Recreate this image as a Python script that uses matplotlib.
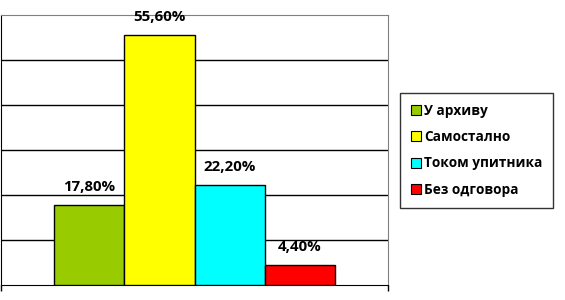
"""Bar chart of answer shares with legend on the right."""

import matplotlib
matplotlib.use('Agg')
import matplotlib.pyplot as plt
from matplotlib.patches import Patch

# data
categories = ['У архиву', 'Самостално', 'Током упитника', 'Без одговора']
values = [17.8, 55.6, 22.2, 4.4]
value_labels = ['17,80%', '55,60%', '22,20%', '4,40%']
colors = ['#99CC00', '#FFFF00', '#00FFFF', '#FF0000']

plt.rcParams['font.family'] = ['Open Sans', 'DejaVu Sans']

fig = plt.figure(figsize=(5.65, 3.0), dpi=100)
ax = fig.add_axes([0.002, 15 / 300, 387 / 565, 270 / 300])

x = list(range(len(values)))
ax.bar(x, values, width=1.0, color=colors, edgecolor='black', linewidth=1, zorder=3)

# value labels above bars
for xi, v, lab in zip(x, values, value_labels):
    ax.annotate(lab, (xi, v), xytext=(0, 11), textcoords='offset pixels',
                ha='center', va='bottom', fontsize=10.8, fontweight='bold')

ax.set_ylim(0, 60)
ax.set_xlim(-1.258, 4.261)
ax.set_yticks([10, 20, 30, 40, 50])
ax.yaxis.grid(True, color='black', linewidth=1, zorder=0)
ax.tick_params(axis='y', length=0, labelleft=False)
ax.set_xticks([-1.258, 4.261])
ax.tick_params(axis='x', direction='out', length=4, width=1, labelbottom=False)

for side in ['top', 'right']:
    ax.spines[side].set_color('#808080')
ax.spines['left'].set_color('black')
ax.spines['bottom'].set_color('black')

handles = [Patch(facecolor=c, edgecolor='black', linewidth=0.8) for c in colors]
leg = fig.legend(handles, categories, loc='upper left',
                 bbox_to_anchor=(400 / 565, 1 - 93 / 300),
                 frameon=True, fancybox=False, edgecolor='black',
                 prop={'size': 9.8, 'weight': 'bold'},
                 handlelength=0.75, handleheight=0.75, handletextpad=0.2,
                 labelspacing=0.9, borderpad=0.8, borderaxespad=0)
leg.get_frame().set_linewidth(1)

fig.savefig('out.png', dpi=100)
